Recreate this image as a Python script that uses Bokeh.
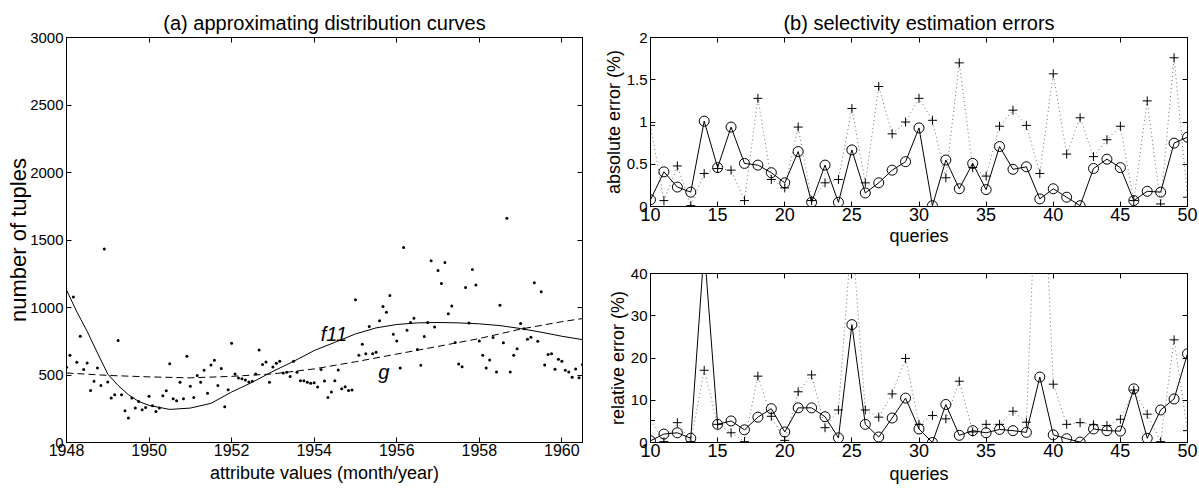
from bokeh.plotting import figure
from bokeh.models import Range1d, LinearAxis, FixedTicker, Label
from bokeh.layouts import row, column
from bokeh.embed import file_html
from bokeh.resources import INLINE

FONT = "Liberation Sans"

# ---------------- data: panel (a) ----------------
start_year = 1948
tuples = [557, 646, 1077, 594, 787, 540, 589, 386, 453, 552, 423, 1433,
          448, 329, 354, 755, 354, 235, 181, 329, 255, 304, 243, 260,
          342, 272, 230, 255, 347, 384, 584, 324, 309, 446, 324, 639,
          416, 334, 497, 446, 535, 364, 574, 609, 423, 549, 265, 391,
          735, 507, 478, 473, 463, 448, 453, 507, 686, 577, 596, 446,
          559, 587, 601, 515, 520, 488, 601, 520, 458, 458, 446, 438,
          443, 411, 540, 455, 334, 374, 458, 537, 398, 413, 386, 389,
          1057, 646, 728, 658, 859, 658, 668, 901, 1007, 965, 1089, 802,
          752, 552, 1445, 832, 888, 921, 688, 572, 785, 888, 1346, 856,
          1275, 1178, 1334, 953, 1012, 740, 582, 562, 1148, 886, 1282, 1166,
          752, 646, 552, 611, 777, 522, 1017, 738, 1661, 522, 646, 695,
          881, 842, 765, 780, 1183, 750, 1116, 574, 651, 658, 542, 616,
          601, 535, 522, 483, 545, 480, 577]
months = [start_year + i / 12 for i in range(len(tuples))]

f11_x = [1948, 1948.25, 1948.5, 1948.75, 1949, 1949.25, 1949.5, 1949.75, 1950,
         1950.5, 1951, 1951.5, 1952, 1952.5, 1953, 1953.5, 1954, 1954.5, 1955,
         1955.5, 1956, 1956.5, 1957, 1957.5, 1958, 1958.5, 1959, 1959.5, 1960, 1960.5]
f11_y = [1130, 968, 824, 663, 507, 423, 354, 304, 275,
         245, 255, 290, 374, 446, 527, 601, 681, 742, 804,
         849, 874, 886, 889, 886, 879, 866, 844, 817, 787, 762]

g_x = [1948, 1949, 1950, 1951, 1952, 1953, 1954, 1955, 1956, 1957, 1958, 1959, 1960, 1960.5]
g_y = [515, 497, 486, 479, 490, 508, 545, 598, 655, 712, 770, 840, 895, 918]

a_xticks = [1948, 1950, 1952, 1954, 1956, 1958, 1960]
a_yticks = [0, 500, 1000, 1500, 2000, 2500, 3000]

# ---------------- data: panel (b) ----------------
queries = list(range(10, 51))
abs_circle = [0.08, 0.41, 0.23, 0.17, 1.01, 0.46, 0.94, 0.51, 0.49, 0.40,
              0.28, 0.65, 0.05, 0.49, 0.05, 0.67, 0.16, 0.28, 0.43, 0.53,
              0.93, 0.01, 0.55, 0.21, 0.51, 0.20, 0.71, 0.44, 0.47, 0.09,
              0.21, 0.11, 0.01, 0.45, 0.56, 0.46, 0.07, 0.18, 0.17, 0.75, 0.82]
abs_plus = [0.96, 0.07, 0.48, 0.01, 0.39, 0.45, 0.43, 0.07, 1.28, 0.32,
            0.22, 0.94, 0.07, 0.28, 0.32, 1.16, 0.28, 1.42, 0.86, 1.00,
            1.28, 1.02, 0.34, 1.70, 0.46, 0.36, 0.95, 1.14, 0.96, 0.39,
            1.57, 0.62, 1.05, 0.59, 0.79, 0.95, 0.07, 1.25, 0.03, 1.76, 0.11]
rel_circle = [0.4, 2.0, 2.3, 1.0, 46.0, 4.3, 5.1, 3.0, 6.0, 8.0,
              2.5, 8.2, 8.2, 6.1, 1.1, 27.9, 4.3, 1.3, 5.8, 10.5,
              3.2, 0.0, 9.0, 1.7, 2.8, 2.3, 3.1, 2.8, 2.4, 15.5,
              1.8, 0.9, 0.1, 3.2, 2.8, 2.7, 12.7, 1.0, 7.7, 10.3, 21.0]
rel_plus = [5.2, 0.2, 4.7, 0.2, 17.1, 4.3, 2.3, 0.2, 15.7, 6.2,
            0.5, 12.0, 16.0, 3.5, 7.7, 50.0, 7.7, 6.0, 11.5, 19.9,
            4.3, 6.4, 5.6, 14.5, 2.5, 4.3, 4.3, 7.4, 4.8, 85.0,
            13.8, 4.3, 4.7, 4.2, 4.0, 5.5, 12.4, 6.7, 0.2, 24.3, 2.8]
b_xticks = [10, 15, 20, 25, 30, 35, 40, 45, 50]
abs_yticks = [0, 0.5, 1, 1.5, 2]
abs_ylabels = {0: "0", 0.5: "0.5", 1: "1", 1.5: "1.5", 2: "2"}
rel_yticks = [0, 10, 20, 30, 40]


def style_axis(ax, ticks, size, labels=True, overrides=None, standoff=3):
    ax.ticker = FixedTicker(ticks=ticks)
    ax.major_tick_in = 5
    ax.major_tick_out = 0
    ax.minor_tick_line_color = None
    ax.axis_line_color = "black"
    ax.major_tick_line_color = "black"
    ax.major_label_text_font = FONT
    ax.major_label_standoff = standoff
    if labels:
        ax.major_label_text_font_size = size
        ax.major_label_text_color = "black"
    else:
        ax.major_label_text_font_size = "1px"
        ax.major_label_text_color = None
        ax.major_label_standoff = 0
    if overrides:
        ax.major_label_overrides = overrides
    ax.axis_label_text_font = FONT
    ax.axis_label_text_font_style = "normal"
    ax.axis_label_text_color = "black"


def make_fig(w, h, xr, yr, bl, br, bt, bb, xticks, yticks, xtick_size, ytick_size,
             xlabel, ylabel, xl_size, yl_size, xl_standoff, yl_standoff,
             title=None, yover=None):
    p = figure(width=w, height=h, x_range=Range1d(*xr), y_range=Range1d(*yr),
               output_backend="svg", toolbar_location=None,
               min_border_left=bl, min_border_right=br,
               min_border_top=bt, min_border_bottom=bb)
    p.xgrid.visible = False
    p.ygrid.visible = False
    p.outline_line_color = "black"
    p.background_fill_color = "white"
    p.border_fill_color = "white"
    style_axis(p.xaxis[0], xticks, xtick_size, standoff=1)
    style_axis(p.yaxis[0], yticks, ytick_size, overrides=yover, standoff=3)
    p.xaxis[0].axis_label = xlabel
    p.xaxis[0].axis_label_text_font_size = xl_size
    p.xaxis[0].axis_label_standoff = xl_standoff
    p.yaxis[0].axis_label = ylabel
    p.yaxis[0].axis_label_text_font_size = yl_size
    p.yaxis[0].axis_label_standoff = yl_standoff
    ra = LinearAxis()
    style_axis(ra, yticks, ytick_size, labels=False)
    p.add_layout(ra, "right")
    ta = LinearAxis()
    style_axis(ta, xticks, xtick_size, labels=False)
    p.add_layout(ta, "above")
    if title:
        p.title.text = title
        p.title.align = "center"
        p.title.text_font = FONT
        p.title.text_font_size = "20px"
        p.title.text_font_style = "normal"
        p.title.text_color = "black"
        p.title.standoff = 8
    return p


# ---------- panel (a) ----------
pa = make_fig(600, 489, (1948, 1960.5), (0, 3000), 66, 18, 37, 47,
              a_xticks, a_yticks, "16px", "15px",
              "attribute values (month/year)", "number of tuples",
              "18px", "22px", 4, -4, title="(a) approximating distribution curves")
pa.scatter(months, tuples, size=3, marker="circle", fill_color="black", line_color=None)
pa.line(f11_x, f11_y, line_color="black", line_width=1)
pa.line(g_x, g_y, line_color="black", line_width=1, line_dash="7 4")
pa.add_layout(Label(x=1954.16, y=725, text="f11", text_font=FONT, text_font_size="20px",
                    text_font_style="italic", text_color="black"))
pa.add_layout(Label(x=1955.55, y=440, text="g", text_font=FONT, text_font_size="20px",
                    text_font_style="italic", text_color="black"))

# ---------- panel (b) top ----------
pt = make_fig(599, 252, (10, 50), (0, 2), 50, 12, 37, 46,
              b_xticks, abs_yticks, "18px", "15px", "queries", "absolute error (%)",
              "18px", "18px", 2, 0, title="(b) selectivity estimation errors",
              yover=abs_ylabels)
pt.line(queries, abs_plus, line_color="#707070", line_width=1, line_dash="1 3")
pt.scatter(queries, abs_plus, marker="cross", size=9, line_color="black", line_width=1)
pt.line(queries, abs_circle, line_color="black", line_width=1)
pt.scatter(queries, abs_circle, marker="circle", size=10, fill_color=None,
           line_color="black", line_width=1)

# ---------- panel (b) bottom ----------
pb = make_fig(599, 237, (10, 50), (0, 40), 50, 12, 21, 47,
              b_xticks, rel_yticks, "18px", "15px", "queries", "relative error (%)",
              "18px", "18px", 4, 0)
pb.line(queries, rel_plus, line_color="#707070", line_width=1, line_dash="1 3")
pb.scatter(queries, rel_plus, marker="cross", size=9, line_color="black", line_width=1)
pb.line(queries, rel_circle, line_color="black", line_width=1)
pb.scatter(queries, rel_circle, marker="circle", size=10, fill_color=None,
           line_color="black", line_width=1)

layout = row(pa, column(pt, pb))
open("out.html", "w").write(file_html(layout, INLINE))
